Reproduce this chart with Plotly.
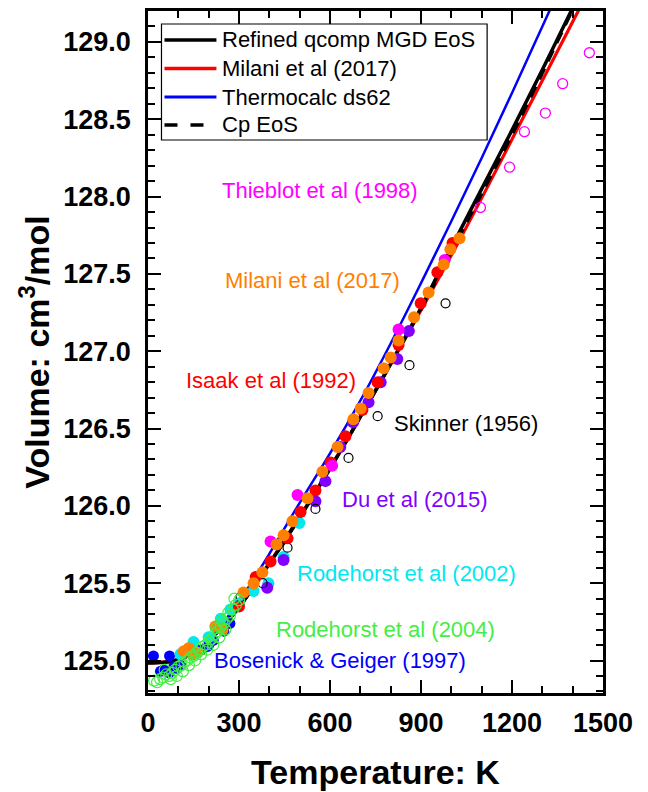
import plotly.graph_objects as go

# ---------------- data ----------------
T_model = [0, 50, 100, 150, 200, 250, 300, 400, 500, 600, 700, 800, 900, 1000, 1100, 1200, 1300, 1400, 1450]
V_mgd   = [124.985, 124.988, 125.005, 125.05, 125.125, 125.23, 125.345, 125.625, 125.925, 126.24, 126.575, 126.92, 127.28, 127.67, 128.05, 128.43, 128.82, 129.22, 129.42]
V_milani_eos = [124.985, 124.99, 125.005, 125.05, 125.125, 125.23, 125.345, 125.63, 125.93, 126.245, 126.575, 126.915, 127.265, 127.62, 127.99, 128.37, 128.75, 129.13, 129.32]
V_ds62  = [124.99, 124.99, 125.0, 125.05, 125.13, 125.25, 125.38, 125.69, 126.02, 126.34, 126.68, 127.05, 127.44, 127.84, 128.25, 128.67, 129.10, 129.53, 129.75]
V_cp    = [124.985, 124.99, 125.005, 125.05, 125.125, 125.23, 125.345, 125.628, 125.928, 126.243, 126.575, 126.918, 127.272, 127.645, 128.02, 128.40, 128.80, 129.21, 129.41]

T_bosenick = [18, 71, 41, 52, 70, 85, 96, 107, 150, 175, 195, 200, 215, 250, 270]
V_bosenick = [125.03, 125.03, 124.93, 124.94, 124.92, 124.96, 124.95, 124.97, 125.04, 125.07, 125.09, 125.10, 125.13, 125.19, 125.24]

T_rod2004 = [20, 30, 40, 50, 55, 60, 70, 75, 80, 90, 95, 100, 110, 115, 120, 130, 135, 140, 150, 155,
             160, 170, 175, 180, 190, 195, 200, 210, 215, 220, 225, 230, 235, 240, 245, 250, 255, 260,
             265, 270, 280, 285, 290, 300]
V_rod2004 = [124.87, 124.86, 124.88, 124.89, 124.94, 124.91, 124.90, 124.88, 124.92, 124.94, 124.90, 124.96,
             124.97, 124.93, 124.99, 125.00, 124.97, 125.02, 125.03, 125.00, 125.05, 125.07, 125.04, 125.09,
             125.10, 125.07, 125.12, 125.14, 125.10, 125.17, 125.21, 125.19, 125.15, 125.22, 125.26, 125.24,
             125.20, 125.27, 125.31, 125.29, 125.33, 125.40, 125.36, 125.39]

T_rod2002 = [107, 150, 200, 240, 272, 300, 348, 397, 447, 499]
V_rod2002 = [125.04, 125.12, 125.15, 125.27, 125.33, 125.37, 125.45, 125.50, 125.67, 125.89]

T_du = [393, 447, 552, 585, 634, 676, 727, 767, 822, 860]
V_du = [125.47, 125.65, 126.03, 126.16, 126.38, 126.54, 126.67, 126.80, 126.95, 127.13]

T_skinner = [305, 378, 460, 552, 661, 757, 862, 981]
V_skinner = [125.41, 125.50, 125.73, 125.98, 126.31, 126.58, 126.91, 127.31]

T_isaak = [300, 355, 404, 460, 503, 552, 602, 651, 707, 757, 826, 899, 954, 1004]
V_isaak = [125.35, 125.54, 125.64, 125.79, 125.96, 126.10, 126.28, 126.45, 126.62, 126.80, 127.04, 127.31, 127.51, 127.70]

T_milani = [118, 134, 150, 163, 222, 246, 315, 348, 377, 424, 447, 476, 526, 575, 625, 677, 701, 727,
            777, 800, 826, 877, 925, 975, 997, 1027]
V_milani = [125.06, 125.08, 125.04, 125.05, 125.22, 125.20, 125.44, 125.50, 125.57, 125.75, 125.81, 125.90,
            126.05, 126.22, 126.38, 126.56, 126.63, 126.73, 126.89, 126.96, 127.07, 127.22, 127.38, 127.56,
            127.66, 127.73]

T_thieblot = [404, 493, 607, 826, 978]
V_thieblot = [125.77, 126.07, 126.26, 127.14, 127.59]
T_thieblot_hi = [1096, 1192, 1241, 1310, 1367, 1455]
V_thieblot_hi = [127.93, 128.19, 128.42, 128.54, 128.73, 128.93]

legend_names = ["Refined qcomp MGD EoS", "Milani et al (2017)", "Thermocalc ds62", "Cp EoS"]

labels = [
    ("Thieblot et al (1998)", 568, 128.04, "#FF00FF"),
    ("Milani et al (2017)", 542, 127.46, "#FF8000"),
    ("Isaak et al (1992)", 407, 126.81, "#FF0000"),
    ("Skinner (1956)", 1049, 126.53, "#000000"),
    ("Du et al (2015)", 881, 126.04, "#8000FF"),
    ("Rodehorst et al (2002)", 851, 125.56, "#00E8F0"),
    ("Rodehorst et al (2004)", 782, 125.20, "#44EE44"),
    ("Bosenick & Geiger (1997)", 634, 125.00, "#0000FF"),
]

FONT = "Liberation Sans, Arial, sans-serif"
fig = go.Figure()

# ---------------- model curves ----------------
fig.add_trace(go.Scatter(x=T_model, y=V_ds62, mode="lines", line=dict(color="#0000FF", width=2.5, shape="spline"), showlegend=False))
fig.add_trace(go.Scatter(x=T_model, y=V_milani_eos, mode="lines", line=dict(color="#FF0000", width=3.2, shape="spline"), showlegend=False))
fig.add_trace(go.Scatter(x=T_model, y=V_mgd, mode="lines", line=dict(color="#000000", width=3.5, shape="spline"), showlegend=False))
fig.add_trace(go.Scatter(x=T_model, y=V_cp, mode="lines", line=dict(color="#000000", width=3.5, dash="12px,8px", shape="spline"), showlegend=False))

# ---------------- data points ----------------
def filled(x, y, c, s=12):
    fig.add_trace(go.Scatter(x=x, y=y, mode="markers", marker=dict(color=c, size=s, line=dict(width=0)), showlegend=False))

def openc(x, y, c, s=10, w=1.2):
    fig.add_trace(go.Scatter(x=x, y=y, mode="markers", marker=dict(symbol="circle-open", color=c, size=s, line=dict(width=w, color=c)), showlegend=False))

filled(T_bosenick, V_bosenick, "#0000FF", 11)
filled(T_rod2002, V_rod2002, "#00E8F0", 12)
filled(T_du, V_du, "#8000FF", 12)
openc(T_skinner, V_skinner, "#000000", 9, 1.2)
filled(T_isaak, V_isaak, "#FF0000", 12)
filled(T_thieblot, V_thieblot, "#FF00FF", 12)
openc(T_thieblot_hi, V_thieblot_hi, "#FF00FF", 10, 1.3)
filled(T_milani, V_milani, "#FF8000", 12)
openc(T_rod2004, V_rod2004, "#44EE44", 11, 1.2)

# ---------------- annotations ----------------
ann = []
for txt, x, y, c in labels:
    ann.append(dict(x=x, y=y, xref="x", yref="y", text=txt, showarrow=False,
                    font=dict(family=FONT, size=22, color=c), xanchor="center", yanchor="middle"))

# manual legend (box, samples, text)
def px2x(px):
    return (px - 147.5) / 455.5

def py2y(py):
    return (693 - py) / 682

shapes = [dict(type="rect", xref="paper", yref="paper", x0=px2x(161), x1=px2x(487), y0=py2y(140), y1=py2y(24),
               line=dict(color="#000000", width=1.2), fillcolor="white", layer="above")]
leg_styles = [("#000000", 3.5, "solid"), ("#FF0000", 3.5, "solid"), ("#0000FF", 3, "solid"), ("#000000", 3.5, "dash")]
leg_y = [40, 68.5, 97, 125]
for (c, w, d), yy, name in zip(leg_styles, leg_y, legend_names):
    shapes.append(dict(type="line", xref="paper", yref="paper", x0=px2x(164), x1=px2x(216), y0=py2y(yy), y1=py2y(yy),
                       line=dict(color=c, width=w, dash="13px,13px" if d == "dash" else "solid"), layer="above"))
    ann.append(dict(x=px2x(220), y=py2y(yy), xref="paper", yref="paper", text=name, showarrow=False,
                    font=dict(family=FONT, size=22, color="#000000"), xanchor="left", yanchor="middle"))

axis_common = dict(showline=True, linecolor="black", linewidth=2.5, mirror="allticks", ticks="inside",
                   ticklen=13, tickwidth=2, tickcolor="black", showgrid=False, zeroline=False,
                   automargin=False,
                   tickfont=dict(family=FONT, size=27, color="black", weight="bold"))

fig.update_layout(
    width=648, height=792,
    margin=dict(l=147.5, r=45, t=11, b=99, autoexpand=False),
    paper_bgcolor="white", plot_bgcolor="white",
    showlegend=False,
    xaxis=dict(range=[0, 1500], tickvals=[0, 300, 600, 900, 1200, 1500],
               minor=dict(ticks="inside", ticklen=7, tickwidth=2, tickcolor="black", dtick=100, showgrid=False),
               title=dict(text="Temperature: K", font=dict(family=FONT, size=34, color="black", weight="bold"), standoff=24),
               ticklabelstandoff=4,
               **axis_common),
    yaxis=dict(range=[124.79, 129.2], tickvals=[125.0, 125.5, 126.0, 126.5, 127.0, 127.5, 128.0, 128.5, 129.0],
               tickformat=".1f",
               minor=dict(ticks="inside", ticklen=7, tickwidth=2, tickcolor="black", dtick=0.1, showgrid=False),
               title=dict(text="Volume: cm<sup>3</sup>/mol", font=dict(family=FONT, size=34, color="black", weight="bold"), standoff=4),
               ticklabelstandoff=9,
               **axis_common),
    annotations=ann,
    shapes=shapes,
)

fig.write_html("out.html", config={"displayModeBar": False},
               post_script="document.body.style.margin='0px';document.body.style.overflow='hidden';")
